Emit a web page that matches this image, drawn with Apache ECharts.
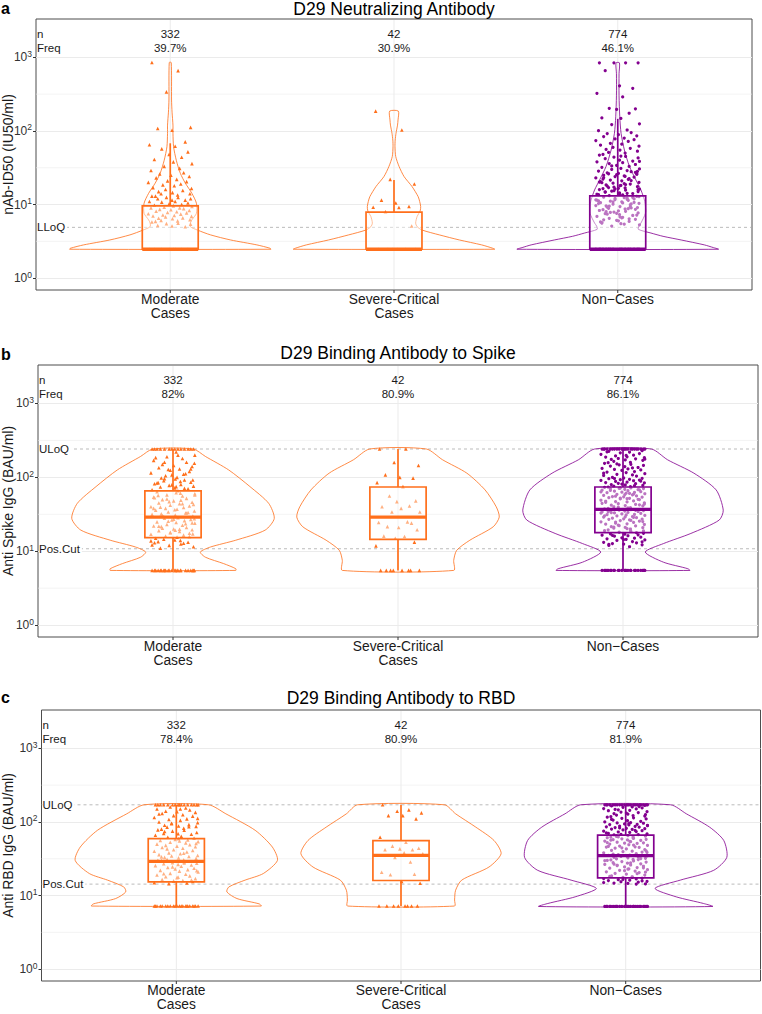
<!DOCTYPE html>
<html><head><meta charset="utf-8">
<script src="https://cdn.jsdelivr.net/npm/echarts@6.0.0/dist/echarts.min.js"></script>
<style>html,body{margin:0;padding:0;background:#fff}#chart{width:762px;height:1014px}</style>
</head><body><div id="chart"></div>
<script>
// ---------------- DATA ----------------
const CATEGORIES = ['Moderate\nCases', 'Severe-Critical\nCases', 'Non\u2212Cases'];
const GROUP_X = [1, 2, 3];
const TITLES = ['D29 Neutralizing Antibody', 'D29 Binding Antibody to Spike', 'D29 Binding Antibody to RBD'];
const Y_NAMES = ['nAb-ID50 (IU50/ml)', 'Anti Spike IgG (BAU/ml)', 'Anti RBD IgG (BAU/ml)'];
const PANEL_LETTERS = ['a', 'b', 'c'];
const N_COUNTS = ['332', '42', '774'];
const FREQ_A = ['39.7%', '30.9%', '46.1%'];
const FREQ_B = ['82%', '80.9%', '86.1%'];
const FREQ_C = ['78.4%', '80.9%', '81.9%'];
const MINOR_GRID = [3.162, 31.62, 316.2];

const REF_NAMES_A = ['LLoQ'];            const REF_VALUES_A = [4.9];
const REF_NAMES_B = ['ULoQ', 'Pos.Cut']; const REF_VALUES_B = [242, 10.8];
const REF_NAMES_C = ['ULoQ', 'Pos.Cut']; const REF_VALUES_C = [171, 14.3];

// box stats: [lower whisker, q1, median, q3, upper whisker]
const BOX_A = [[2.47, 2.47, 2.47, 9.6, 68], [2.47, 2.47, 2.47, 7.9, 21.6], [2.47, 2.47, 2.47, 13.1, 146]];
const BOX_B = [[5.5, 15.3, 29, 65.5, 242], [5.5, 14.5, 29, 74, 242], [5.5, 17.9, 36.9, 74, 242]];
const BOX_C = [[7.2, 15.3, 29.2, 59.3, 171], [7.2, 16, 35.2, 55.7, 171], [7.1, 17.4, 34.9, 66.3, 171]];

// violin outlines: [value, relative half width]
const VIOLIN_A_MOD = [[2.47,1],[2.55,0.99],[2.83,0.86],[3.3,0.6],[3.87,0.4],[4.5,0.27],[5.0,0.2],[5.6,0.2],[6.2,0.215],[7.6,0.26],[10.4,0.26],[14.2,0.215],[19.5,0.15],[26.6,0.1],[40,0.06],[61,0.033],[93,0.027],[120,0.027],[180,0.018],[263,0.013],[850,0.01]];
const VIOLIN_A_SEV = [[2.47,1],[2.55,0.98],[2.83,0.87],[3.3,0.65],[3.87,0.45],[4.5,0.28],[5.0,0.23],[5.6,0.215],[6.9,0.23],[8.2,0.26],[9.4,0.265],[11,0.255],[12.8,0.24],[17.5,0.18],[24,0.1],[33,0.05],[45,0.017],[61,0.01],[75,0.012],[93,0.02],[120,0.035],[141,0.04],[186,0.043]];
const VIOLIN_A_NON = [[2.47,1],[2.6,0.95],[2.83,0.86],[3.3,0.63],[3.7,0.45],[4.1,0.33],[4.6,0.205],[5.1,0.21],[5.6,0.23],[7.6,0.275],[9.5,0.275],[11.5,0.265],[15.8,0.23],[21.6,0.18],[33,0.116],[55,0.066],[93,0.033],[156,0.02],[300,0.013],[600,0.013],[842,0.017]];
const VIOLIN_B_MOD = [[5.5,0.62],[5.8,0.62],[6.8,0.5],[8.3,0.32],[9.75,0.27],[11.4,0.37],[14.1,0.62],[19.3,0.91],[27.8,1.0],[44.5,0.945],[75,0.76],[126,0.55],[192,0.32],[242,0.2]];
const VIOLIN_B_SEV = [[5.5,0.55],[7.5,0.55],[10.3,0.58],[14.1,0.71],[21.4,0.94],[29,1.0],[40,0.97],[67.6,0.86],[114,0.68],[173,0.44],[242,0.28]];
const VIOLIN_B_NON = [[5.5,0.66],[5.8,0.64],[7.1,0.4],[9.75,0.22],[12.7,0.4],[17.4,0.67],[26.4,0.95],[36,0.99],[67.6,0.92],[114,0.7],[173,0.44],[242,0.28]];
const VIOLIN_C_MOD = [[7.2,0.84],[7.7,0.82],[9.1,0.6],[11.2,0.5],[13.1,0.52],[16.2,0.68],[19.9,0.86],[30,1.0],[45.6,0.95],[77,0.78],[129,0.49],[171,0.32]];
const VIOLIN_C_SEV = [[7.2,0.53],[8.7,0.53],[11.8,0.54],[16.2,0.6],[24.4,0.87],[37,0.99],[56,0.92],[85,0.74],[129,0.54],[171,0.43]];
const VIOLIN_C_NON = [[7.1,0.86],[7.8,0.77],[9.6,0.5],[12.5,0.29],[16.2,0.54],[22,0.87],[33,1.0],[56,0.97],[85,0.83],[129,0.6],[171,0.445]];

// individual readings (values)
const PTS_A_MOD = [850,660,340,112,108,102,71,65,62,57,52,48,44,41,38,36,33,31,29,27,26,25,24,23,22,21,20.5,20,19,18.5,18,17,16.5,16,15.5,15,14.5,14,14,13.5,13,13,12.5,12.5,12,12,11.5,11.5,11,11,10.8,10.5,10.2,10,9.8,9.6,9.4,9.2,9,9,8.8,8.6,8.5,8.3,8.1,8,7.8,7.7,7.5,7.4,7.2,7.1,7,6.9,6.8,6.6,6.5,6.4,6.2,6.1,6,5.9,5.8,5.6,5.5,5.4,5.2,5.1,5.0,2.47,2.47,2.47,2.47,2.47,2.47,2.47,2.47];
const PTS_A_SEV = [186,103,22,19,11.5,10.5,9.4,9.2,9.1,8.0,5.1,2.47,2.47,2.47,2.47,2.47,2.47];
const PTS_A_NON = [842,842,842,842,660,410,380,325,290,203,200,196,174,150,148,125,122,103,101,
95,92,89,86,84,80,78,76,74,72,
68,66,64,62,60,58,56,55,53,51,50,48,47,45,44,43,42,40,39,38,37,36,35,34,33,32,31,30.5,30,
29,28.5,28,27,26.5,26,25,24.5,24,23.5,23,22,21.5,21,20.5,20,19.5,19,18.5,18,17.5,17,16.8,16.5,16,15.7,15.4,15,14.7,14.4,14.1,13.8,13.5,13.2,
27.3,25.5,22.5,19.8,18.2,16.2,15.2,14.2,13.6,21.2,17.8,16.6,
12.9,12.6,12.4,12.1,11.9,11.6,11.4,11.1,10.9,10.6,10.4,10.1,9.9,9.6,9.4,9.1,8.9,8.7,8.5,8.3,8.1,7.9,7.7,7.5,7.3,7.1,6.9,6.7,6.5,6.3,6.1,5.9,5.7,5.5,5.3,5.1,
12.2,11.2,10.2,9.2,8.2,7.2,6.2,5.4,11.7,10.7,9.7,8.8,7.8,6.6,5.8,12.8,10.9,9.3,8.0,6.8,
28.2,26.2,24.2,22.2,20.2,18.7,17.2,15.9,14.9,13.9,12.5,11.5,10.5,9.5,8.6,7.6,6.4,5.6,45.5,38.5,33.5,11.8,10.3,9.0,7.4,6.0,25.8,23.2,19.3,16.3,
2.47,2.47,2.47,2.47,2.47,2.47,2.47,2.47,2.47,2.47,2.47,2.47,2.47,2.47,2.47,2.47];
const PTS_B_MOD = [242,242,242,242,242,242,242,242,242,242,242,242,242,242,
220,200,190,180,170,160,150,145,140,135,130,125,120,115,110,105,100,185,155,128,112,
98,95,92,90,88,85,82,80,78,76,74,72,70,68,66,96,86,79,71,
64,62,60,58,56,54,52,50,48,46,45,44,42,41,40,39,38,37,36,35,34,33,32,31,30,29.5,61,57,53,49,47,43,39.5,36.5,33.5,31.5,
28.5,28,27,26.5,26,25,24.5,24,23,22.5,22,21,20.5,20,19.5,19,18.5,18,17.5,17,16.5,16,15.5,15,27.5,25.5,23.5,21.5,19.2,17.2,
14.5,14,13.5,13,12.5,12,11.5,11,14.2,13.2,12.2,
200,160,130,108,92,84,75,58,51,44,38,33,30.5,27.2,24.2,21.8,19.8,17.8,15.8,13.8,12.8,
5.5,5.5,5.5,5.5,5.5,5.5,5.5,5.5,5.5,5.5,5.5,5.5,5.5,5.5,5.5,5.5,5.5,5.5,5.5,5.5,5.5,5.5,5.5,5.5];
const PTS_B_SEV = [242,242,159,145,108,100,97.5,85,75,56,48,47,41,40,38,34,34,25,24.5,24,21.5,21,19.5,16,15.8,15,13.3,11.8,5.5,5.5,5.5,5.5,5.5,5.5,5.5,5.5];
const PTS_B_NON = [242,242,242,242,242,242,242,242,242,242,242,242,242,242,242,242,242,242,242,242,242,242,
230,225,220,215,210,205,200,195,190,188,185,180,178,175,172,170,165,160,158,155,150,148,145,142,140,136,132,130,128,126,124,120,118,116,112,110,108,106,104,100,
98,97,96,94,93,92,91,90,88,86,85,84,83,82,80,79,78,76,75,74,
73,72,71,70.5,70,69,68,67,66,65,64,63,62.5,62,61,60,59,58,57,56,55,54.5,54,53,52,51,50,49,48,47,46.5,46,45,44,43,42,41.5,41,40,39,38,37.5,
36.5,36,35.5,35.2,35,34.5,34,33.5,33,32.5,32,31.5,31.2,31,30.5,30,29.5,29,28.5,28,27.5,27.2,27,26.5,26,25.5,25,24.5,24,23.5,23.2,23,22.5,22,21.5,21,20.8,20.5,20,19.5,19,18.5,18.2,
17.5,17.2,17,16.7,16.5,16.2,16,15.5,15.2,15,14.7,14.5,14.2,14,13.5,13.2,13,12.7,12.5,12.2,12,11.5,
71.5,67.5,63.5,59.5,55.5,51.5,47.5,43.5,39.5,35.8,33.2,29.2,25.2,21.2,19.2,34.2,30.2,26.2,22.2,18.8,66.5,58.5,50.5,44.5,38.5,96.5,89,81,77,222,198,176,152,134,114,17.8,16.4,14.4,13.4,12.4,60.5,52.5,42.5,32.8,28.8,24.8,20.2,
5.5,5.5,5.5,5.5,5.5,5.5,5.5,5.5,5.5,5.5,5.5,5.5,5.5,5.5,5.5,5.5,5.5,5.5,5.5,5.5,5.5,5.5,5.5,5.5,5.5,5.5];
const PTS_C_MOD = [171,171,171,171,171,171,171,171,171,171,171,171,171,171,171,171,
160,155,150,145,140,138,135,130,125,122,120,115,110,108,105,100,
98,95,92,90,88,87,85,82,80,78,77,75,72,70,69,68,66,64,62,60,
58,57,56,55,54,53,52,50,49,48,47,46,45,44,42,41,40,39,38,37,36,35,34.5,34,33,32.5,32,31,30.5,30,29.5,
28.5,28,27.5,27,26.5,26,25.5,25,24,23.5,23,22.5,22,21.5,21,20,19.5,19,18.5,18,17.5,17,16.5,16,15.8,15.5,15,14.8,14.5,
150,128,112,96,86,74,59,51,43,37.5,33.5,30.2,27.8,24.5,21.8,19.8,17.8,16.2,
7.2,7.2,7.2,7.2,7.2,7.2,7.2,7.2,7.2,7.2,7.2,7.2,7.2,7.2,7.2,7.2,7.2,7.2,7.2,7.2,7.2,7.2];
const PTS_C_SEV = [171,146,140,133,122,122,110,62,53,47,44,43,42,42,38,37,33,28.6,20.7,19.5,19.2,15.5,14.7,7.2,7.2,7.2,7.2,7.2,7.2,7.2,7.2];
const PTS_C_NON = [171,171,171,171,171,171,171,171,171,171,171,171,171,171,171,171,171,171,171,171,171,171,
168,165,160,158,155,152,150,146,144,142,138,136,134,130,128,126,124,122,118,116,114,112,110,106,104,102,100,
98,97,96,94,93,92,91,90,88,87,86,85,84,82,81,80,79,78,76,75,74,73,72,70,69,68,67.5,66.5,
65,64,63.5,63,62,61,60,59,58,57.5,57,56,55,54,53,52,51.5,51,50,49,48,47,46,45.5,45,44,43,42,41,40,39.5,39,38,37,36,35.5,35.2,
34.5,34,33.5,33,32.5,32,31.5,31,30.5,30,29.5,29,28.5,28,27.5,27,26.5,26,25.5,25,24.5,24,23.5,23,22.5,22,21.5,21,20.5,20,19.5,19,18.5,18,17.7,
17.2,17,16.8,16.4,16.2,16,15.6,15.4,15.2,14.8,14.6,14.4,
64.5,60.5,56.5,52.5,48.5,44.5,40.5,36.5,33.8,31.8,29.8,27.8,25.8,23.8,21.8,19.8,18.2,95,89,83,77,71,162,148,132,120,108,17.6,16.6,15.8,15,14.3,62.5,54.5,46.5,38.5,34.8,30.8,26.8,22.8,20.8,
7.1,7.1,7.1,7.1,7.1,7.1,7.1,7.1,7.1,7.1,7.1,7.1,7.1,7.1,7.1,7.1,7.1,7.1,7.1,7.1,7.1,7.1,7.1,7.1,7.1,7.1];

// horizontal jitter pattern (fraction of jitter width)
const JITTER = [-0.82,0.35,-0.17,0.91,-0.56,0.08,0.67,-0.93,0.22,-0.38,0.79,-0.05,0.51,-0.71,0.14,0.97,-0.27,0.42,-0.86,0.6,-0.47,0.03,0.85,-0.63,0.29,-0.12,0.73,-0.98,0.47,-0.33,0.18,-0.77,0.95,-0.21,0.56,-0.52,0.1,0.88,-0.41,0.33,-0.66];

// ---------------- LAYOUT / STYLE ----------------
const Y_MIN = 0.69, Y_MAX = 3320;      // axis range
const N_Y = 2100, F_Y = 1360;          // text rows
const VW = 0.45, BW = 0.25, JW = 0.1;  // violin half width, box width, jitter width
const ORANGE = '#FF6F1B', PURPLE = '#83008F';
const COLORS = [ORANGE, ORANGE, PURPLE];
const SYMBOLS = ['triangle', 'triangle', 'circle'];
const SYMSIZE = [3.6, 3.6, 3.2];
const FONT = '"Liberation Sans", Arial, Helvetica, sans-serif';
const TXT = '#1a1a1a';

const PANELS = [
  {grid: {left: 36, top: 19, width: 716, height: 271}, nameGap: 21, titleY: 9, letterY: 8.5,
   freq: FREQ_A, box: BOX_A, violins: [VIOLIN_A_MOD, VIOLIN_A_SEV, VIOLIN_A_NON], pts: [PTS_A_MOD, PTS_A_SEV, PTS_A_NON],
   refNames: REF_NAMES_A, refValues: REF_VALUES_A},
  {grid: {left: 38, top: 365, width: 720, height: 272}, nameGap: 23, titleY: 352.5, letterY: 354.4,
   freq: FREQ_B, box: BOX_B, violins: [VIOLIN_B_MOD, VIOLIN_B_SEV, VIOLIN_B_NON], pts: [PTS_B_MOD, PTS_B_SEV, PTS_B_NON],
   refNames: REF_NAMES_B, refValues: REF_VALUES_B},
  {grid: {left: 41.5, top: 710, width: 719, height: 271}, nameGap: 26.5, titleY: 697.5, letterY: 697.7,
   freq: FREQ_C, box: BOX_C, violins: [VIOLIN_C_MOD, VIOLIN_C_SEV, VIOLIN_C_NON], pts: [PTS_C_MOD, PTS_C_SEV, PTS_C_NON],
   refNames: REF_NAMES_C, refValues: REF_VALUES_C}
];

const chart = echarts.init(document.getElementById('chart'), null, {renderer: 'svg'});
const grids = [], xAxes = [], yAxes = [], series = [], graphics = [];

function txt(x, y, text, align, size) {
  return {type: 'text', x: x, y: y, style: {text: text, fill: TXT, font: size + 'px ' + FONT, align: align, verticalAlign: 'middle'}};
}

PANELS.forEach(function (P, p) {
  grids.push(Object.assign({}, P.grid, {show: true, borderColor: '#4d4d4d', borderWidth: 1, backgroundColor: '#fff', containLabel: false, outerBoundsMode: 'none'}));
  xAxes.push({type: 'value', gridIndex: p, min: 0.4, max: 3.6, interval: 0.2,
    axisLine: {show: false}, axisTick: {show: false}, splitLine: {show: false},
    axisLabel: {margin: 3, fontSize: 13.8, lineHeight: 13.5, color: TXT, fontFamily: FONT,
      formatter: function (v) { const i = GROUP_X.findIndex(function (g) { return Math.abs(g - v) < 1e-6; }); return i >= 0 ? CATEGORIES[i] : ''; }}});
  yAxes.push({type: 'log', logBase: 10, gridIndex: p, min: Y_MIN, max: Y_MAX,
    name: Y_NAMES[p], nameLocation: 'middle', nameGap: P.nameGap, nameMoveOverlap: false,
    nameTextStyle: {fontSize: 14, color: TXT, fontFamily: FONT},
    axisLine: {show: false}, axisTick: {show: true, length: 3, lineStyle: {color: '#333', width: 1}},
    splitLine: {show: true, showMinLine: false, showMaxLine: false, lineStyle: {color: '#ebebeb', width: 1}},
    minorSplitLine: {show: false},
    axisLabel: {margin: 4, showMinLabel: false, showMaxLabel: false, color: '#333',
      formatter: function (v) { const k = Math.log10(v); const r = Math.round(k); if (Math.abs(k - r) > 1e-6) return ''; return '{b|10}{s|' + r + '}'; },
      rich: {b: {fontSize: 12, lineHeight: 16, color: '#333', fontFamily: FONT}, s: {fontSize: 8.5, lineHeight: 9, color: '#333', fontFamily: FONT, verticalAlign: 'top'}}}});

  const base = {xAxisIndex: p, yAxisIndex: p, silent: true, animation: false};

  // minor grid lines
  series.push(Object.assign({}, base, {type: 'custom', z: 1, clip: false,
    data: MINOR_GRID.map(function (v) { return [0.4, v]; }),
    renderItem: function (params, api) {
      const cs = params.coordSys; const y = api.coord([1, api.value(1)])[1];
      return {type: 'line', shape: {x1: cs.x, y1: y, x2: cs.x + cs.width, y2: y}, style: {stroke: '#ebebeb', lineWidth: 0.6}};
    }}));
  // vertical grid lines + ticks at groups
  series.push(Object.assign({}, base, {type: 'custom', z: 1, clip: false,
    data: GROUP_X.map(function (g) { return [g, 1]; }),
    renderItem: function (params, api) {
      const cs = params.coordSys; const x = api.coord([api.value(0), 1])[0];
      return {type: 'group', children: [
        {type: 'line', shape: {x1: x, y1: cs.y + 1, x2: x, y2: cs.y + cs.height - 1}, style: {stroke: '#ebebeb', lineWidth: 1}},
        {type: 'line', shape: {x1: x, y1: cs.y + cs.height, x2: x, y2: cs.y + cs.height + 3}, style: {stroke: '#333', lineWidth: 1}}
      ]};
    }}));
  // reference lines with labels
  series.push(Object.assign({}, base, {type: 'custom', z: 2, clip: false,
    data: P.refValues.map(function (v) { return [0.4, v]; }),
    renderItem: function (params, api) {
      const cs = params.coordSys; const y = api.coord([1, api.value(1)])[1];
      const t = txt(cs.x + 1, y, P.refNames[params.dataIndex], 'left', 11.5);
      t.style.backgroundColor = '#fff'; t.style.padding = [0, 2, 0, 0];
      return {type: 'group', children: [
        {type: 'line', shape: {x1: cs.x, y1: y, x2: cs.x + cs.width, y2: y}, style: {stroke: '#aaaaaa', lineWidth: 0.8, lineDash: [3, 3]}},
        t]};
    }}));
  // violins
  series.push(Object.assign({}, base, {type: 'custom', z: 3, clip: false,
    data: GROUP_X.map(function (g, i) { return [g, P.box[i][2]]; }),
    renderItem: function (params, api) {
      const i = params.dataIndex; const g = api.value(0); const prof = P.violins[i];
      const right = prof.map(function (d) { return api.coord([g + d[1] * VW, d[0]]); });
      const left = prof.slice().reverse().map(function (d) { return api.coord([g - d[1] * VW, d[0]]); });
      return {type: 'polygon', shape: {points: right.concat(left), smooth: 0.25}, style: {fill: 'none', stroke: COLORS[i], lineWidth: 0.9, opacity: 0.9}};
    }}));
  // jittered points
  P.pts.forEach(function (vals, i) {
    const g = GROUP_X[i];
    series.push(Object.assign({}, base, {type: 'scatter', z: 4, symbol: SYMBOLS[i], symbolSize: SYMSIZE[i],
      itemStyle: {color: COLORS[i], opacity: 1},
      data: vals.map(function (v, k) { return [g + JITTER[k % JITTER.length] * JW, v]; })}));
  });
  // boxes
  series.push(Object.assign({}, base, {type: 'custom', z: 5, clip: false,
    data: GROUP_X.map(function (g, i) { return [g, P.box[i][2]]; }),
    renderItem: function (params, api) {
      const i = params.dataIndex; const g = api.value(0); const s = P.box[i]; const c = COLORS[i];
      const xl = api.coord([g - BW / 2, s[1]])[0], xr = api.coord([g + BW / 2, s[1]])[0], cx = api.coord([g, s[1]])[0];
      const y = function (v) { return api.coord([g, v])[1]; };
      return {type: 'group', children: [
        {type: 'line', shape: {x1: cx, y1: y(s[3]), x2: cx, y2: y(s[4])}, style: {stroke: c, lineWidth: 1.7}},
        {type: 'line', shape: {x1: cx, y1: y(s[1]), x2: cx, y2: y(s[0])}, style: {stroke: c, lineWidth: 1.7}},
        {type: 'rect', shape: {x: xl, y: y(s[3]), width: xr - xl, height: y(s[1]) - y(s[3])}, style: {fill: 'rgba(255,255,255,0.45)', stroke: c, lineWidth: 1.7}},
        {type: 'line', shape: {x1: xl, y1: y(s[2]), x2: xr, y2: y(s[2])}, style: {stroke: c, lineWidth: 3.3}}
      ]};
    }}));
  // n / Freq texts
  series.push(Object.assign({}, base, {type: 'custom', z: 6, clip: false,
    data: GROUP_X.map(function (g) { return [g, N_Y]; }),
    renderItem: function (params, api) {
      const i = params.dataIndex; const g = api.value(0);
      const pN = api.coord([g, N_Y]), pF = api.coord([g, F_Y]);
      const ch = [txt(pN[0], pN[1], N_COUNTS[i], 'center', 11.5), txt(pF[0], pF[1], P.freq[i], 'center', 11.5)];
      if (i === 0) { const x0 = params.coordSys.x + 1; ch.push(txt(x0, pN[1], 'n', 'left', 11.5), txt(x0, pF[1], 'Freq', 'left', 11.5)); }
      return {type: 'group', children: ch};
    }}));

  // title and panel letter
  graphics.push({type: 'text', x: P.grid.left + P.grid.width / 2, y: P.titleY, silent: true,
    style: {text: TITLES[p], fill: '#000', font: '17.5px ' + FONT, align: 'center', verticalAlign: 'middle'}});
  graphics.push({type: 'text', x: 1, y: P.letterY, silent: true,
    style: {text: PANEL_LETTERS[p], fill: '#000', font: 'bold 16px ' + FONT, align: 'left', verticalAlign: 'middle'}});
});

chart.setOption({animation: false, backgroundColor: '#fff', grid: grids, xAxis: xAxes, yAxis: yAxes, series: series, graphic: graphics});
</script></body></html>
